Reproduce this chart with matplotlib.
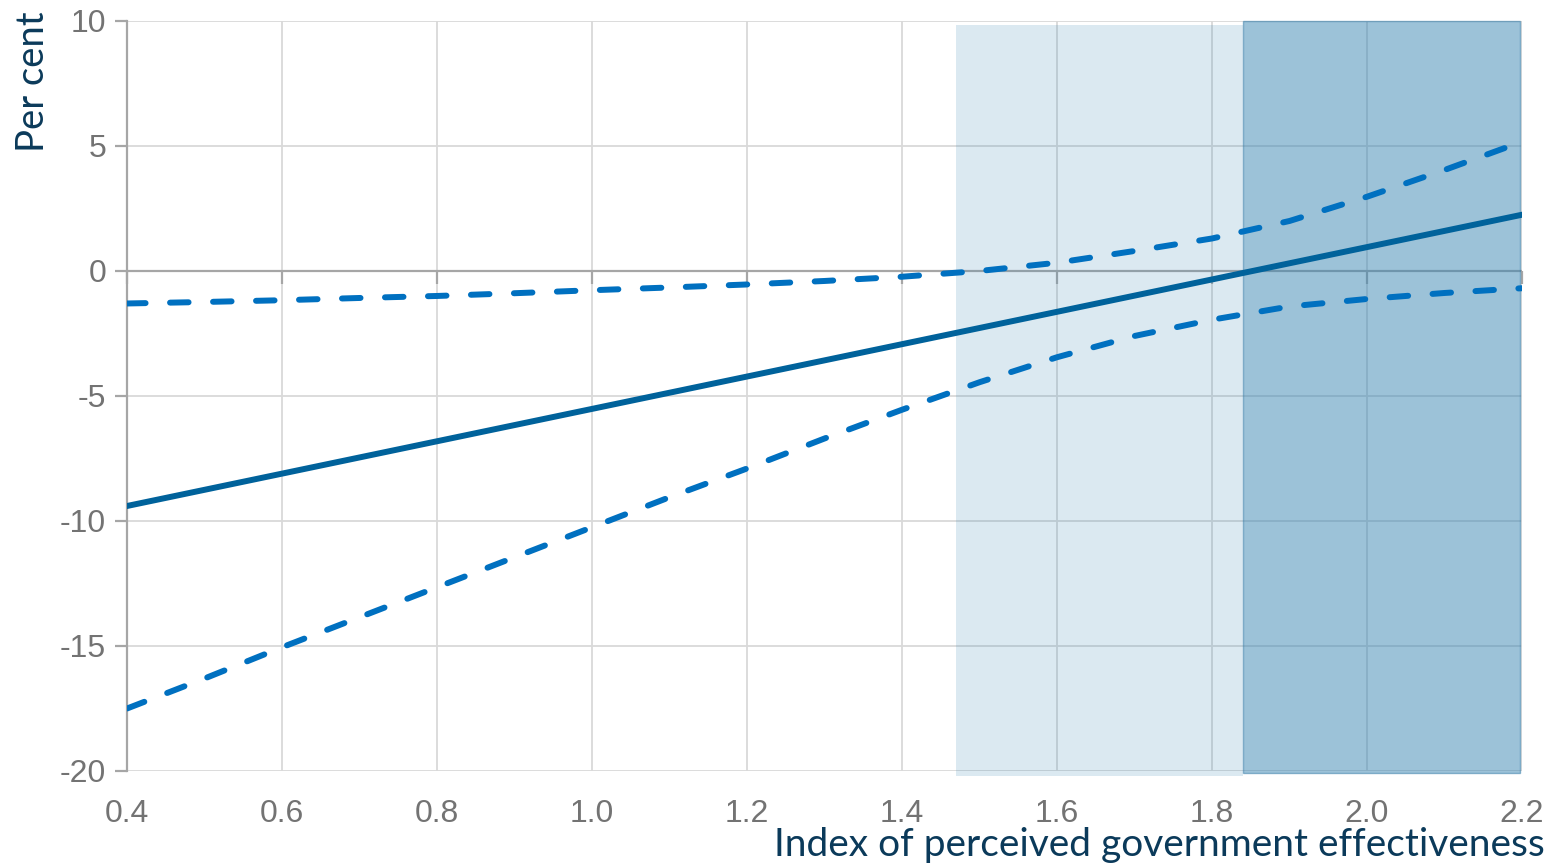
import numpy as np
import matplotlib
matplotlib.use('Agg')
import matplotlib.pyplot as plt

plt.rcParams['axes.unicode_minus'] = False

# index of perceived government effectiveness
x_band = [0.4, 0.5, 0.6, 0.7, 0.8, 0.9, 1.0, 1.1, 1.2, 1.3,
          1.4, 1.5, 1.6, 1.7, 1.8, 1.9, 2.0, 2.1, 2.2]
upper = [-1.3, -1.24, -1.17, -1.08, -1.0, -0.89, -0.77, -0.66, -0.54, -0.4,
         -0.23, 0.0, 0.33, 0.8, 1.3, 2.0, 2.97, 4.04, 5.17]
lower = [-17.5, -16.3, -15.05, -13.85, -12.65, -11.45, -10.25, -9.05, -7.9, -6.7,
         -5.55, -4.45, -3.45, -2.6, -1.95, -1.42, -1.12, -0.88, -0.69]
x_est = [0.4, 2.2]
estimate = [-9.4, 2.25]

light_range = [1.47, 1.84]
dark_range = [1.84, 2.197]

xticks = [0.4, 0.6, 0.8, 1.0, 1.2, 1.4, 1.6, 1.8, 2.0, 2.2]
yticks = [-20, -15, -10, -5, 0, 5, 10]

grey = '#a6a6a6'
navy = '#0b3a5a'

fig = plt.figure(figsize=(15.59, 8.66), dpi=100)
ax = fig.add_axes([0.0815, 0.1097, 0.8948, 0.8661])

ax.set_xlim(0.4, 2.2)
ax.set_ylim(-20, 10)
ax.set_xticks(xticks)
ax.set_xticklabels(['%.1f' % t for t in xticks])
ax.set_yticks(yticks)
ax.set_yticklabels([str(t) for t in yticks])

ax.set_axisbelow(True)
ax.grid(True, color='#d9d9d9', lw=1.3, zorder=0.5)

# shaded ranges
ax.axvspan(light_range[0], light_range[1], ymin=-0.007, ymax=0.995,
           color='#3a86b3', alpha=0.18, lw=0, zorder=1, clip_on=False)
ax.axvspan(dark_range[0], dark_range[1], ymin=-0.003, ymax=1.0,
           facecolor='#3a86b3', alpha=0.5, edgecolor='#2f78a5', lw=1,
           zorder=1, clip_on=False)

ax.axhline(0, color=grey, lw=1.6, zorder=0.8)
ax.plot(xticks, np.zeros(len(xticks)), ls='none', marker=3, ms=9,
        mew=1.6, color=grey, zorder=0.8, clip_on=False)

ax.plot(x_est, estimate, color='#00629b', lw=4.3, zorder=3)
ax.plot(x_band, upper, color='#0070c0', lw=4.3, ls=(0, (3.1, 4.1)),
        dash_capstyle='round', zorder=3)
ax.plot(x_band, lower, color='#0070c0', lw=4.3, ls=(0, (3.1, 4.1)),
        dash_capstyle='round', zorder=3)

for s in ['top', 'right', 'bottom']:
    ax.spines[s].set_visible(False)
ax.spines['left'].set_color(grey)
ax.spines['left'].set_linewidth(1.6)
ax.tick_params(axis='y', direction='out', length=9, width=1.6, color=grey,
               labelsize=23, labelcolor='#737373', pad=6)
ax.tick_params(axis='x', length=0, labelsize=23, labelcolor='#737373', pad=20)
for lab in ax.get_xticklabels() + ax.get_yticklabels():
    lab.set_family('Liberation Sans')

fig.text(0.991, 0.003, 'Index of perceived government effectiveness',
         ha='right', va='bottom', fontsize=28, color=navy, family='Lato')
fig.text(0.021, 0.987, 'Per cent', rotation=90, ha='center', va='top',
         fontsize=27.5, color=navy, family='Lato')

fig.savefig('out.png', dpi=100)
